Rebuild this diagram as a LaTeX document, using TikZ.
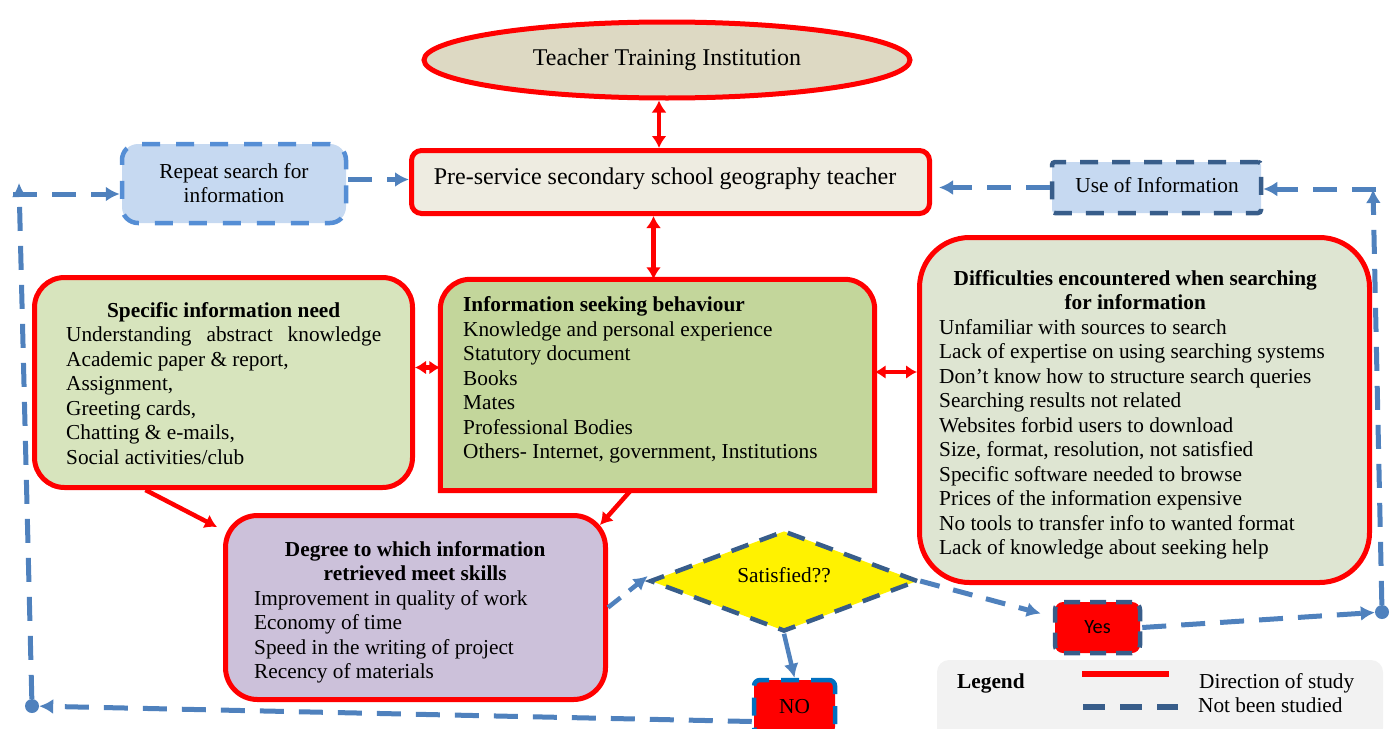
\documentclass[tikz,border=0pt]{standalone}
\usepackage{fontspec}
\setmainfont{Liberation Serif}
\newfontfamily\calibrifont{Carlito}
\usetikzlibrary{arrows.meta,shapes.geometric,calc}

\definecolor{flowred}{RGB}{255,0,0}
\definecolor{loopblue}{RGB}{79,129,189}
\definecolor{navy}{RGB}{56,93,138}
\definecolor{midblue}{RGB}{85,142,213}
\definecolor{brightblue}{RGB}{0,112,192}
\definecolor{tanfill}{RGB}{221,217,195}
\definecolor{stonefill}{RGB}{238,236,225}
\definecolor{skyfill}{RGB}{198,217,241}
\definecolor{leaffill}{RGB}{215,228,189}
\definecolor{grassfill}{RGB}{195,214,155}
\definecolor{sagefill}{RGB}{222,229,210}
\definecolor{lilacfill}{RGB}{204,193,218}
\definecolor{legendfill}{RGB}{242,242,242}

\newcommand\bodyfont{\fontsize{21.3}{24.5}\selectfont}
\newcommand\bigfont{\fontsize{24}{27}\selectfont}
\newcommand\firstrow{\rule{0pt}{17pt}}

\tikzset{
  rtip/.tip={Latex[length=12pt,width=15pt]},
  stip/.tip={Latex[length=11pt,width=14pt]},
  btip/.tip={Latex[length=14pt,width=15pt]},
  boxshape/.style={rectangle, inner sep=0pt},
  redborder/.style={draw=flowred, line width=5pt},
  flowline/.style={draw=flowred, line width=4.5pt},
  returnline/.style={draw=loopblue, line width=5pt, dash pattern=on 24pt off 15pt},
  txt/.style={inner sep=0pt, font=\bodyfont},
  textblock/.style={inner sep=0pt, font=\bodyfont, anchor=north west, align=left},
  cornerdot/.style={circle, fill=loopblue, inner sep=0pt, minimum size=14pt},
}

\begin{document}
\begin{tikzpicture}[x=1pt,y=-1pt]
\useasboundingbox (0,0) rectangle (1391,728);

% legend panel
\node[boxshape, fill=legendfill, rounded corners=12pt, minimum width=446pt, minimum height=80pt] (Legend) at (1160,700) {};

% institution and teacher
\node[ellipse, redborder, fill=tanfill, minimum width=486pt, minimum height=76pt, inner sep=0pt, font=\bigfont] (Inst) at (667,60) {Teacher Training Institution};
\node[boxshape, redborder, fill=stonefill, rounded corners=10pt, minimum width=518pt, minimum height=63pt] (Pre) at (670.5,182) {};
\node[txt, font=\bigfont, anchor=base] (PreT) at (665,184) {Pre-service secondary school geography teacher};

% side boxes on the top row
\node[boxshape, draw=midblue, line width=4.5pt, dash pattern=on 18pt off 16pt, fill=skyfill, rounded corners=16pt, minimum width=224pt, minimum height=79pt] (Repeat) at (234,183.5) {};
\node[txt, anchor=north, align=center] (RepeatT) at (234,161) {\firstrow Repeat search for\\ information};
\node[boxshape, draw=navy, line width=4.5pt, dash pattern=on 18pt off 14pt, fill=skyfill, rounded corners=3pt, minimum width=209pt, minimum height=51pt] (Use) at (1156.5,187.5) {};
\node[txt, anchor=base] (UseT) at (1157,192) {Use of Information};

% information need
\node[boxshape, redborder, fill=leaffill, rounded corners=30pt, minimum width=378pt, minimum height=210pt] (Spec) at (223.5,382.5) {};
\node[textblock] (SpecT) at (66,300) {\makebox[315pt]{\firstrow\bfseries Specific information need}\\
\hbox to 315pt{Understanding\hfill abstract\hfill knowledge}\\
Academic paper \& report,\\
Assignment,\\
Greeting cards,\\
Chatting \& e-mails,\\
Social activities/club};

% information seeking behaviour (rounded on top only)
\node[boxshape, minimum width=434pt, minimum height=211pt] (Info) at (657.5,385) {};
\filldraw[redborder, fill=grassfill] (Info.south) -- (Info.south west) [rounded corners=30pt] -- (Info.north west) -- (Info.north east) [sharp corners] -- (Info.south east) -- cycle;
\node[textblock] (InfoT) at (463,294.5) {\firstrow\textbf{Information seeking behaviour}\\
Knowledge and personal experience\\
Statutory document\\
Books\\
Mates\\
Professional Bodies\\
Others- Internet, government, Institutions};

% difficulties
\node[boxshape, redborder, fill=sagefill, rounded corners=50pt, minimum width=450pt, minimum height=345pt] (Diff) at (1144.5,410) {};
\node[textblock] (DiffT) at (939,268) {\makebox[392pt]{\firstrow\bfseries Difficulties encountered when searching}\\
\makebox[392pt]{\bfseries for information}\\
Unfamiliar with sources to search\\
Lack of expertise on using searching systems\\
Don’t know how to structure search queries\\
Searching results not related\\
Websites forbid users to download\\
Size, format, resolution, not satisfied\\
Specific software needed to browse\\
Prices of the information expensive\\
No tools to transfer info to wanted format\\
Lack of knowledge about seeking help};

% degree of skills met
\node[boxshape, redborder, fill=lilacfill, rounded corners=32pt, minimum width=380pt, minimum height=184pt] (Degree) at (415.5,607.5) {};
\node[textblock] (DegreeT) at (254,539) {\makebox[322pt]{\firstrow\bfseries Degree to which information}\\
\makebox[322pt]{\bfseries retrieved meet skills}\\
Improvement in quality of work\\
Economy of time\\
Speed in the writing of project\\
Recency of materials};

% decision
\node[diamond, draw=navy, line width=4.5pt, dash pattern=on 18pt off 12pt, fill=yellow, aspect=2.65, minimum width=268pt, minimum height=101pt, inner sep=0pt] (Sat) at (784,581) {};
\node[txt, anchor=base] (SatT) at (784,582) {Satisfied??};
\node[boxshape, draw=navy, line width=4.5pt, dash pattern=on 16pt off 10pt, fill=flowred, rounded corners=8pt, minimum width=85pt, minimum height=51pt, font=\calibrifont\fontsize{20.3}{24}\selectfont] (Yes) at (1097.5,627.5) {Yes};
\node[boxshape, draw=brightblue, line width=4.5pt, dash pattern=on 18pt off 12pt, fill=flowred, rounded corners=6pt, minimum width=81pt, minimum height=53pt, font=\bodyfont] (NO) at (794.5,706.5) {NO};

% red connectors
\draw[flowline, rtip-rtip] ([xshift=-8pt]Inst.south) -- ([xshift=-8pt]Inst.south |- Pre.north);
\draw[flowline, rtip-rtip] ([xshift=-4pt]Info.north) -- ([xshift=-4pt]Info.north |- Pre.south);
\draw[flowline, stip-stip] ([yshift=15pt]Spec.east) -- ([yshift=15pt]Spec.east -| Info.west);
\draw[flowline, stip-stip] ([yshift=13pt]Info.east) -- ([yshift=13pt]Info.east -| Diff.west);
\draw[flowline, -rtip] ([xshift=-78pt]Spec.south) -- ($(Degree.north west)+(-6,14)$);
\draw[flowline, -rtip] ([xshift=-27pt]Info.south) -- ($(Degree.north east)+(-8,12)$);

% blue connectors
\draw[returnline, dash pattern=on 16pt off 11pt, line width=4.5pt, -btip] (Degree.east) -- ([yshift=5pt]Sat.west);
\draw[draw=loopblue, line width=4.5pt, -btip] (Sat.south) -- (NO.north);
\draw[returnline, dash pattern=on 20pt off 14pt, -btip] (Sat.east) -- ($(Yes.west)+(-12,-14)$);

% return loop on the left
\node[cornerdot] (bldot) at (32,706) {};
\coordinate (tlup) at (19,183);
\coordinate (tlstart) at (13,194);
\draw[returnline, -btip] ([yshift=-15pt]NO.west) -- (bldot);
\draw[returnline, -btip] (bldot) -- (tlup);
\draw[returnline, -btip] (tlstart) -- (tlstart -| Repeat.west);
\draw[returnline, -btip] ([yshift=4pt]Repeat.east) -- ([yshift=4pt]Repeat.east -| Pre.west);

% return loop on the right
\node[cornerdot] (brdot) at (1382,612) {};
\coordinate (trup) at (1373,189);
\coordinate (trstart) at (1376,189);
\draw[returnline, -btip] (Yes.east) -- (brdot);
\draw[returnline, -btip] (brdot) -- (trup);
\draw[returnline, -btip] (trstart) -- (trstart -| Use.east);
\draw[returnline, -btip, shorten >=7pt] (Use.west) -- (Use.west -| Pre.east);

% legend content
\node[txt, anchor=base west, font=\bodyfont\bfseries] (LegendT) at (957,688) {Legend};
\coordinate (redA) at (1082,674);
\coordinate (redB) at (1169,674);
\draw[draw=flowred, line width=6pt] (redA) -- (redB);
\node[txt, anchor=base west] (StudyT) at (1199,688) {Direction of study};
\coordinate (blueA) at (1083,707);
\coordinate (blueB) at (1178,707);
\draw[draw=navy, line width=6pt, dash pattern=on 22pt off 15pt] (blueA) -- (blueB);
\node[txt, anchor=base west] (NotT) at (1198,712.7) {Not been studied};
\end{tikzpicture}
\end{document}
